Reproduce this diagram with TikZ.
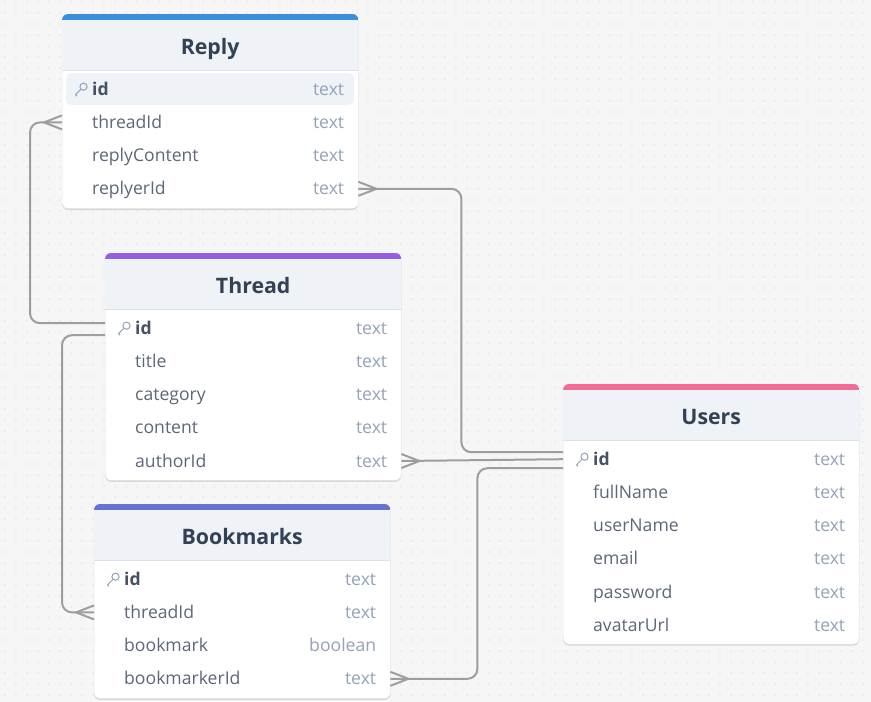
\documentclass[tikz,border=0pt]{standalone}
\usepackage{fontspec}
\setmainfont{Open Sans}
\usetikzlibrary{positioning,shadows}

\definecolor{bg}{HTML}{F6F6F6}
\definecolor{griddot}{HTML}{CCCCCC}
\definecolor{headfill}{HTML}{EFF3F8}
\definecolor{sepline}{HTML}{DCE2EA}
\definecolor{titlecol}{HTML}{334155}
\definecolor{namecol}{HTML}{5C6779}
\definecolor{keycol}{HTML}{465163}
\definecolor{typecol}{HTML}{94A3B8}
\definecolor{linkcol}{HTML}{9E9E9E}
\definecolor{replybar}{HTML}{3A90DF}
\definecolor{threadbar}{HTML}{965EE0}
\definecolor{bookbar}{HTML}{6674CF}
\definecolor{userbar}{HTML}{F26C96}

\begin{document}
\begin{tikzpicture}[x=1pt,y=1pt,
    tablebox/.style={draw=sepline,fill=white,rounded corners=6pt,minimum width=296pt,inner sep=0pt,anchor=north west,
      drop shadow={shadow xshift=0pt,shadow yshift=-1.5pt,opacity=0.12,fill=black}},
    rowbox/.style={rectangle,minimum width=296pt,minimum height=32.8pt,inner sep=0pt},
    title/.style={font=\fontsize{21.3}{24}\selectfont\bfseries,text=titlecol,inner sep=0pt,anchor=base},
    fieldname/.style={font=\fontsize{17.6}{20}\selectfont,text=namecol,inner sep=0pt,anchor=base west},
    keyname/.style={fieldname,font=\fontsize{17.6}{20}\selectfont\bfseries,text=keycol},
    fieldtype/.style={font=\fontsize{17.6}{20}\selectfont,text=typecol,inner sep=0pt,anchor=base east},
    keyicon/.style={draw=typecol,line width=1pt},
    link/.style={draw=linkcol,line width=2pt,rounded corners=10pt},
    crow/.style={draw=linkcol,line width=2pt}]

  % dotted canvas
  \useasboundingbox (0,0) rectangle (871,-702);
  \fill[bg] (0,0) rectangle (871,-702);
  \foreach \x in {5,16,...,871}
    \foreach \y in {2,13,...,702}
      \fill[griddot] (\x,-\y) circle (0.6pt);

  % tables: box, header, key row
  \foreach \tb/\xx/\yy/\hgt/\col/\ttl/\kf in {reply/62/14/194.4/replybar/Reply/headfill,
      thread/105/253/227.2/threadbar/Thread/white,
      bm/94/504/194.4/bookbar/Bookmarks/white,
      users/563/384/260/userbar/Users/white}{
    \node[tablebox,minimum height=\hgt pt] (\tb) at (\xx,-\yy) {};
    \begin{scope}
      \clip[rounded corners=6pt] (\tb.south west) rectangle (\tb.north east);
      \fill[headfill] (\tb.north west) rectangle ++(296,-56);
      \fill[\col] (\tb.north west) rectangle ++(296,-6);
    \end{scope}
    \draw[sepline] ([yshift=-56pt]\tb.north west) -- ++(296,0);
    \node[title] (\tb-title) at ([yshift=-40.5pt]\tb.north) {\ttl};
    \fill[\kf,rounded corners=5pt] ([xshift=4pt,yshift=-59pt]\tb.north west) rectangle ++(288,-32);
    \node[rowbox,anchor=north west] (\tb-0) at ([yshift=-58.6pt]\tb.north west) {};
    \draw[keyicon] ([xshift=21.5pt,yshift=2.5pt]\tb-0.west) circle (3.6pt);
    \draw[keyicon] ([xshift=19pt,yshift=0pt]\tb-0.west) -- ++(-5.5,-5.5) -- ++(1.5,-1.5);
    \node[keyname] (\tb-0-n) at ([xshift=30pt,yshift=-6pt]\tb-0.west) {id};
    \node[fieldtype] (\tb-0-t) at ([xshift=-14pt,yshift=-6pt]\tb-0.east) {text};
  }

  % other rows
  \foreach \tb/\rows in {reply/{threadId/text,replyContent/text,replyerId/text},
      thread/{title/text,category/text,content/text,authorId/text},
      bm/{threadId/text,bookmark/boolean,bookmarkerId/text},
      users/{fullName/text,userName/text,email/text,password/text,avatarUrl/text}}{
    \foreach \fn/\ft [count=\i] in \rows {
      \pgfmathtruncatemacro\j{\i-1}
      \node[rowbox,below=0pt of \tb-\j] (\tb-\i) {};
      \node[fieldname] (\tb-\i-n) at ([xshift=30pt,yshift=-6pt]\tb-\i.west) {\fn};
      \node[fieldtype] (\tb-\i-t) at ([xshift=-14pt,yshift=-6pt]\tb-\i.east) {\ft};
    }
  }

  % relations
  \draw[link] (reply-1.west) -- ++(-32,0) |- ([yshift=5pt]thread-0.west);
  \draw[crow] ([yshift=7pt]reply-1.west) -- ([xshift=-18pt]reply-1.west) -- ([yshift=-7pt]reply-1.west);

  \draw[link] ([yshift=-7pt]thread-0.west) -- ++(-43,0) |- (bm-1.west);
  \draw[crow] ([yshift=7pt]bm-1.west) -- ([xshift=-18pt]bm-1.west) -- ([yshift=-7pt]bm-1.west);

  \draw[link] (reply-3.east) -- ++(103,0) |- ([yshift=7pt]users-0.west);
  \draw[crow] ([yshift=7pt]reply-3.east) -- ([xshift=18pt]reply-3.east) -- ([yshift=-7pt]reply-3.east);

  \draw[link] (thread-4.east) -- (users-0.west);
  \draw[crow] ([yshift=7pt]thread-4.east) -- ([xshift=18pt]thread-4.east) -- ([yshift=-7pt]thread-4.east);

  \draw[link] (bm-3.east) -- ++(87,0) |- ([yshift=-9pt]users-0.west);
  \draw[crow] ([yshift=7pt]bm-3.east) -- ([xshift=18pt]bm-3.east) -- ([yshift=-7pt]bm-3.east);
\end{tikzpicture}
\end{document}
